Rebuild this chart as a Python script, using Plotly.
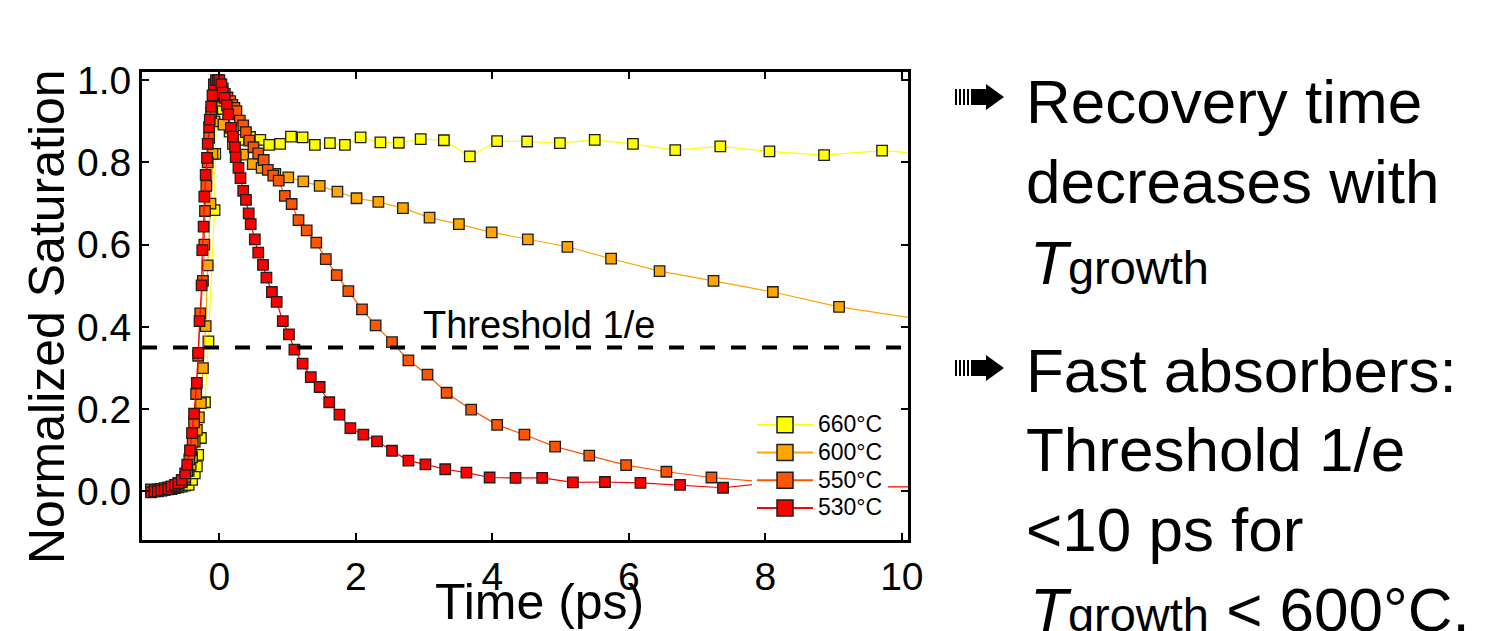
import plotly.graph_objects as go

# ---------------- data ----------------
t660 = [-1.00,-0.95,-0.90,-0.85,-0.80,-0.75,-0.70,-0.65,-0.60,-0.55,-0.50,-0.45,
        -0.40,-0.36,-0.33,-0.31,-0.27,-0.21,-0.16,-0.07,-0.06,-0.03,
        0.05,0.15,0.28,0.45,0.60,0.73,0.89,1.05,1.22,1.40,1.62,1.84,2.07,2.36,2.63,2.95,
        3.29,3.67,4.07,4.51,4.99,5.50,6.06,6.68,7.34,8.06,8.86,9.71,10.40]
s660 = [0.000,0.002,0.002,0.003,0.004,0.005,0.006,0.008,0.010,0.012,0.014,0.016,
        0.028,0.044,0.061,0.089,0.130,0.217,0.365,0.684,0.821,0.985,
        0.930,0.875,0.855,0.862,0.855,0.843,0.845,0.863,0.861,0.843,0.847,0.843,0.861,0.849,
        0.848,0.857,0.854,0.815,0.852,0.851,0.847,0.855,0.845,0.830,0.839,0.827,0.818,0.829,0.820]

t600 = [-1.00,-0.95,-0.90,-0.85,-0.80,-0.75,-0.70,-0.65,-0.60,-0.55,-0.50,-0.45,
        -0.42,-0.40,-0.36,-0.33,-0.30,-0.27,-0.24,-0.20,-0.17,-0.13,-0.10,-0.07,-0.04,-0.01,
        0.02,0.04,0.06,0.20,0.35,0.49,0.62,0.82,1.01,1.23,1.47,1.73,2.01,2.33,2.69,3.08,
        3.51,3.99,4.52,5.10,5.74,6.45,7.24,8.11,9.08,10.30]
s600 = [0.004,0.004,0.005,0.006,0.007,0.008,0.010,0.012,0.016,0.022,0.030,0.050,
        0.065,0.083,0.121,0.150,0.180,0.215,0.300,0.402,0.550,0.700,0.821,0.900,0.960,1.000,
        0.985,0.950,0.892,0.845,0.819,0.796,0.787,0.772,0.764,0.754,0.743,0.729,0.713,0.704,
        0.689,0.666,0.650,0.630,0.613,0.595,0.566,0.536,0.512,0.485,0.449,0.418]

t550 = [-1.00,-0.95,-0.90,-0.85,-0.80,-0.75,-0.70,-0.65,-0.60,-0.55,-0.50,
        -0.47,-0.44,-0.41,-0.39,-0.37,-0.34,-0.31,-0.28,-0.24,-0.22,-0.21,-0.19,-0.17,-0.15,
        -0.12,-0.09,-0.05,-0.02,
        0.02,0.05,0.08,0.12,0.16,0.19,0.22,0.25,0.30,0.35,0.39,0.44,0.50,0.57,0.65,0.71,
        0.79,0.87,0.96,1.06,
        1.16,1.28,1.42,1.56,1.72,1.89,2.09,2.29,2.53,2.77,3.05,3.33,3.69,4.07,4.47,4.92,
        5.42,5.96,6.55,7.21,7.95,8.75]
s550 = [0.005,0.004,0.004,0.006,0.008,0.010,0.012,0.016,0.020,0.026,0.035,
        0.050,0.078,0.100,0.121,0.168,0.237,0.330,0.433,0.512,0.600,0.682,0.743,0.800,0.860,
        0.920,0.960,0.990,1.000,
        0.990,0.980,0.967,0.958,0.949,0.940,0.933,0.925,0.902,0.890,0.874,0.853,0.837,0.822,
        0.806,0.782,0.768,0.756,0.719,0.699,
        0.660,0.635,0.605,0.565,0.526,0.487,0.443,0.404,0.363,0.319,0.284,0.240,0.199,0.162,
        0.138,0.109,0.087,0.064,0.048,0.034,0.024,0.018]

t530 = [-1.00,-0.95,-0.90,-0.85,-0.80,-0.75,-0.70,-0.65,-0.60,-0.55,-0.50,
        -0.47,-0.43,-0.40,-0.37,-0.33,-0.31,-0.29,-0.26,-0.25,-0.23,-0.22,-0.20,-0.18,-0.17,
        -0.15,-0.14,-0.12,-0.10,-0.08,-0.05,-0.02,
        0.00,0.03,0.05,0.08,0.11,0.13,0.17,0.20,0.23,0.24,0.28,0.31,0.35,0.39,0.43,0.46,0.52,0.57,
        0.64,0.69,0.77,0.84,0.93,1.02,1.10,1.22,1.34,1.47,1.61,1.76,1.92,2.11,2.31,2.53,2.77,
        3.02,3.31,3.62,3.96,4.34,4.73,5.18,5.65,6.17,6.75,7.38,8.00,8.70,9.50,10.30]
s530 = [-0.002,0.000,0.000,0.002,0.004,0.006,0.012,0.016,0.020,0.028,0.044,
        0.065,0.100,0.142,0.189,0.264,0.337,0.414,0.501,0.587,0.644,0.717,0.770,0.811,0.845,
        0.886,0.904,0.936,0.963,0.990,1.000,1.000,
        1.000,0.990,0.970,0.957,0.939,0.917,0.884,0.863,0.837,0.813,0.787,0.762,0.731,0.709,
        0.676,0.650,0.613,0.581,
        0.551,0.520,0.485,0.461,0.414,0.382,0.345,0.311,0.278,0.254,0.217,0.187,0.154,0.138,
        0.122,0.099,0.075,0.066,0.054,0.046,0.034,0.033,0.033,0.022,0.023,0.021,0.016,0.009,
        0.020,0.014,0.011,0.011]

series_names = ["660°C", "600°C", "550°C", "530°C"]
series_t = [t660, t600, t550, t530]
series_s = [s660, s600, s550, s530]
series_colors = ["#FFFF00", "#FFA500", "#FF5500", "#FF0000"]

threshold = 0.35
threshold_label = "Threshold 1/e"
threshold_label_x = 2.95

x_ticks = [0, 2, 4, 6, 8, 10]
y_ticks = [0.0, 0.2, 0.4, 0.6, 0.8, 1.0]
x_title = "Time (ps)"
y_title = "Normalized Saturation"

bullet_lines = [
    ["Recovery time", "decreases with", "TGROWTH"],
    ["Fast absorbers:", "Threshold 1/e", "&lt;10 ps for", "TGROWTH &lt; 600°C."],
]

# ---------------- layout geometry (pixels) ----------------
W, H = 1491, 631
L, R, T, B = 142, 908, 72, 540
PW, PH = R - L, B - T


def px(x):
    return (x - L) / PW


def py(y):
    return (B - y) / PH


FONT = "Liberation Sans, Arial, Helvetica, sans-serif"

fig = go.Figure()

# legend-only entries (larger symbols and text, as in the reference legend)
for name, col in zip(series_names, series_colors):
    fig.add_trace(go.Scatter(
        x=[None], y=[None], name=f"<span style='font-size:23px'>{name}</span>",
        mode="lines+markers",
        line=dict(color=col, width=2),
        marker=dict(symbol="square", size=16, color=col,
                    line=dict(color="rgb(30,30,30)", width=1.5)),
        showlegend=True))

for name, t, s, col in zip(series_names, series_t, series_s, series_colors):
    fig.add_trace(go.Scatter(
        x=t, y=s, name=name, mode="lines+markers", showlegend=False,
        line=dict(color=col, width=1.2),
        marker=dict(symbol="square", size=10.5, color=col,
                    line=dict(color="rgb(30,30,30)", width=1.3))))

axis_common = dict(
    showline=True, linecolor="black", linewidth=3, mirror="allticks",
    ticks="inside", ticklen=7, tickwidth=2, tickcolor="black",
    showgrid=False, zeroline=False,
    tickfont=dict(family=FONT, size=39, color="black"),
)

fig.update_xaxes(range=[-1.133, 10.09], tickvals=x_ticks, **axis_common)
fig.update_yaxes(range=[-0.118, 1.02], tickvals=y_ticks, tickformat=".1f", **axis_common)

shapes = [dict(type="line", xref="paper", yref="y", x0=0, x1=1,
               y0=threshold, y1=threshold,
               line=dict(color="black", width=4, dash="15px,16px"), layer="above")]

annotations = [
    dict(text=threshold_label, x=threshold_label_x, y=threshold, xref="x", yref="y",
         xanchor="left", yanchor="bottom", showarrow=False,
         font=dict(family=FONT, size=38, color="black")),
    dict(text=x_title, x=px(539), y=py(602), xref="paper", yref="paper",
         xanchor="center", yanchor="middle", showarrow=False,
         font=dict(family=FONT, size=50, color="black")),
    dict(text=y_title, x=px(47), y=py(317), xref="paper", yref="paper",
         xanchor="center", yanchor="middle", showarrow=False, textangle=-90,
         font=dict(family=FONT, size=50, color="black")),
]

# right-hand bullet text
line_base = [[124, 204, 285], [393, 472, 552, 632]]
arrow_centers = [97, 368]
FS = 62
for block, bases in zip(bullet_lines, line_base):
    for txt, base in zip(block, bases):
        if txt.startswith("TGROWTH"):
            rest = txt[len("TGROWTH"):]
            txt = ("<i>T</i><span style='font-size:47px'>growth</span>" + rest)
            x0 = 1028
        else:
            x0 = 1024
        fig.add_annotation(text=txt, x=px(x0), y=py(base - 0.36 * FS),
                           xref="paper", yref="paper", xanchor="left", yanchor="middle",
                           showarrow=False, font=dict(family=FONT, size=FS, color="black"))

# striped arrow bullets
for cy in arrow_centers:
    for bx in [955, 959, 963, 967]:
        shapes.append(dict(type="rect", xref="paper", yref="paper",
                           x0=px(bx), x1=px(bx + 2), y0=py(cy + 8), y1=py(cy - 8),
                           fillcolor="black", line=dict(width=0)))
    shapes.append(dict(type="rect", xref="paper", yref="paper",
                       x0=px(971), x1=px(987), y0=py(cy + 8), y1=py(cy - 8),
                       fillcolor="black", line=dict(width=0)))
    shapes.append(dict(type="path", xref="paper", yref="paper",
                       path=f"M {px(986)} {py(cy - 13)} L {px(1004)} {py(cy)} L {px(986)} {py(cy + 13)} Z",
                       fillcolor="black", line=dict(width=0)))

for a in annotations:
    fig.add_annotation(**a)

fig.update_layout(
    width=W, height=H,
    margin=dict(l=L, r=W - R, t=T, b=H - B, pad=0),
    paper_bgcolor="white", plot_bgcolor="white",
    shapes=shapes,
    showlegend=True,
    legend=dict(x=px(752), y=py(406), xanchor="left", yanchor="top",
                bgcolor="white", borderwidth=0, itemwidth=56,
                font=dict(family=FONT, size=19, color="black"),
                tracegroupgap=0),
    font=dict(family=FONT, color="black"),
)

fig.write_html("out.html")
